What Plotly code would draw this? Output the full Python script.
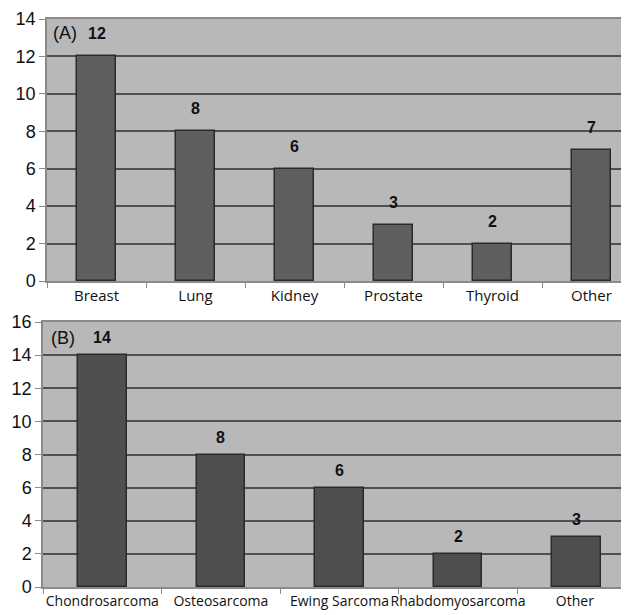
import plotly.graph_objects as go

cats_a = ["Breast", "Lung", "Kidney", "Prostate", "Thyroid", "Other"]
vals_a = [12, 8, 6, 3, 2, 7]
cats_b = ["Chondrosarcoma", "Osteosarcoma", "Ewing Sarcoma", "Rhabdomyosarcoma", "Other "]
vals_b = [14, 8, 6, 2, 3]
yticks_a = [0, 2, 4, 6, 8, 10, 12, 14]
yticks_b = [0, 2, 4, 6, 8, 10, 12, 14, 16]

SW, SH = 629, 615          # screen size
OFF = 8                    # default body margin of the page
W, H = SW - OFF, SH - OFF  # figure size
BG = "#b8b8b8"
GRID = "#505050"
AXC = "#8a8a8a"

fig = go.Figure()
fig.add_trace(go.Bar(x=cats_a, y=vals_a, width=0.39, marker=dict(color="#5f5f5f", line=dict(color="#2a2a2a", width=1.5)),
                     xaxis="x", yaxis="y", showlegend=False, hoverinfo="skip"))
fig.add_trace(go.Bar(x=cats_b, y=vals_b, width=0.41, marker=dict(color="#4f4f4f", line=dict(color="#2a2a2a", width=1.5)),
                     xaxis="x2", yaxis="y2", showlegend=False, hoverinfo="skip"))

def px_x(p):
    return (p - OFF) / W

def px_y(p):
    return (H - (p - OFF)) / H

a_left, a_band = 47, 99.0
b_left, b_band = 43, 118.6

tickfont = dict(family="Liberation Sans, Arial", size=18, color="#111")
common_y = dict(showgrid=True, gridcolor=GRID, gridwidth=1.5, ticks="outside", ticklen=6, tickcolor=AXC,
                showline=True, linecolor=AXC, linewidth=1.5, zeroline=False, tickfont=tickfont, automargin=False)
common_x = dict(showgrid=False, ticks="outside", ticklen=5, tickcolor=AXC, tickson="boundaries", tickangle=0,
                showline=True, linecolor=AXC, linewidth=1.5, mirror=True, zeroline=False, automargin=False)

fig.update_layout(
    width=W, height=H, margin=dict(l=0, r=0, t=0, b=0, autoexpand=False),
    paper_bgcolor="white", plot_bgcolor=BG, bargap=0,
    xaxis=dict(domain=[px_x(a_left), 1], range=[-0.5, -0.5 + (SW - a_left) / a_band], anchor="y",
               tickfont=dict(family="Open Sans", size=15, color="#111"), **common_x),
    yaxis=dict(domain=[px_y(281), px_y(19)], range=[0, 14], tickvals=yticks_a, anchor="x", **common_y),
    xaxis2=dict(domain=[px_x(b_left), 1], range=[-0.5, -0.5 + (SW - b_left) / b_band], anchor="y2",
                tickfont=dict(family="Open Sans", size=14, color="#111"), **common_x),
    yaxis2=dict(domain=[px_y(587), px_y(322)], range=[0, 16], tickvals=yticks_b, anchor="x2", **common_y),
)

annos = []
for c, v in zip(cats_a, vals_a):
    annos.append(dict(x=c, y=v, xref="x", yref="y", text=f"<b>{v}</b>", showarrow=False, yanchor="bottom",
                      yshift=12, font=dict(family="Liberation Sans, Arial", size=16, color="#111")))
for c, v in zip(cats_b, vals_b):
    annos.append(dict(x=c, y=v, xref="x2", yref="y2", text=f"<b>{v}</b>", showarrow=False, yanchor="bottom",
                      yshift=7, font=dict(family="Liberation Sans, Arial", size=16, color="#111")))
annos.append(dict(x=px_x(51), y=px_y(33), xref="paper", yref="paper", text="(A)", showarrow=False,
                  xanchor="left", yanchor="middle", font=dict(family="Liberation Sans, Arial", size=18, color="#111")))
annos.append(dict(x=px_x(49), y=px_y(338), xref="paper", yref="paper", text="(B)", showarrow=False,
                  xanchor="left", yanchor="middle", font=dict(family="Liberation Sans, Arial", size=18, color="#111")))
fig.update_layout(annotations=annos)

fig.write_html("out.html")
